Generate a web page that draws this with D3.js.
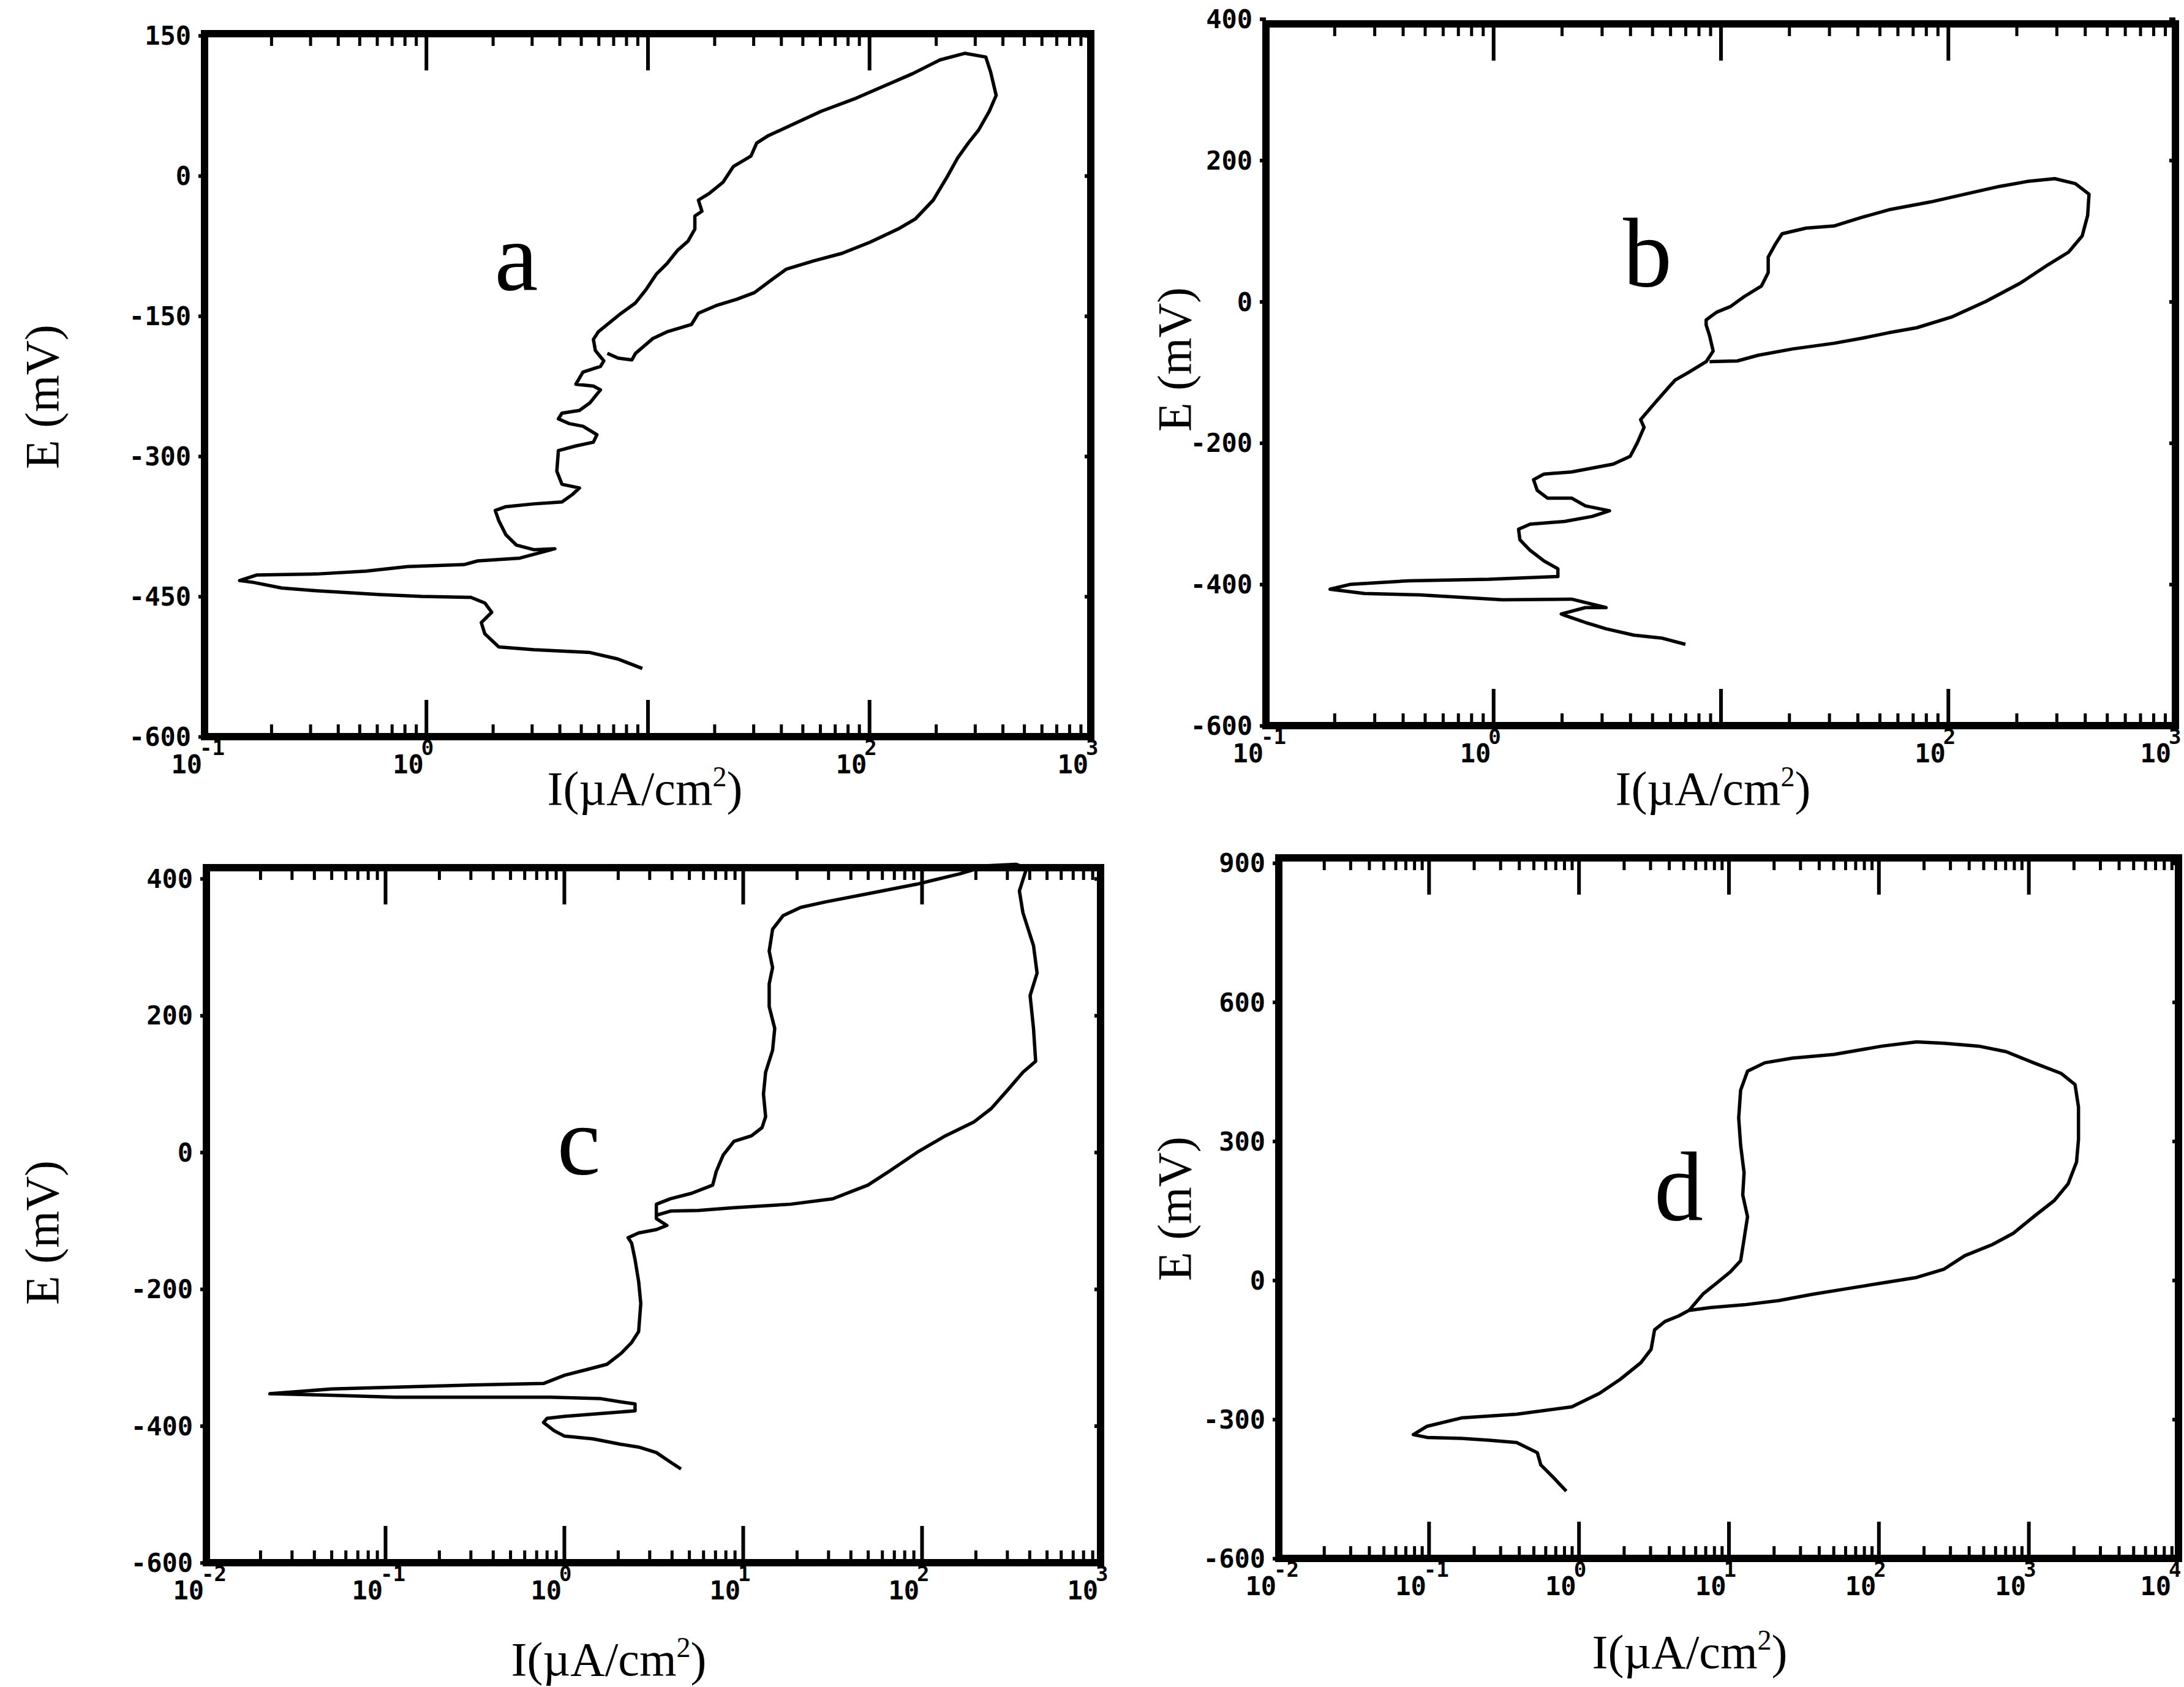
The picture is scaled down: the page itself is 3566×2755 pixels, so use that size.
<!DOCTYPE html>
<html lang="en">
<head>
<meta charset="UTF-8">
<title>Cyclic polarization curves a-d</title>
<script src="https://d3js.org/d3.v7.min.js"></script>
<style>
  body { margin: 0; background: #fff; }
  .tickLabel { font-family: "DejaVu Sans Mono", monospace; font-weight: bold; font-size: 42px; }
  .expLabel { font-family: "DejaVu Sans Mono", monospace; font-weight: bold; font-size: 34px; }
  .axisTitle { font-family: "Liberation Serif", "Times New Roman", serif; font-size: 78px; text-anchor: middle; }
  .panelLetter { font-family: "Liberation Serif", "Times New Roman", serif; font-size: 160px; text-anchor: middle; }
</style>
</head>
<body>
<script>
const width = 3566, height = 2755;

// ---- data: log10 I (uA/cm2) and E (mV) ----
// panel a
const aLogI = [0.976, 0.866, 0.739, 0.486, 0.328, 0.265, 0.249, 0.296, 0.265, 0.202, -0.020, -0.209, -0.494, -0.652, -0.779, -0.842,
  -0.763, -0.494, -0.273, -0.083, 0.170, 0.233, 0.423, 0.581, 0.486, 0.407, 0.360, 0.328, 0.312, 0.360, 0.486, 0.613, 0.660, 0.692,
  0.613, 0.590, 0.597, 0.676, 0.755, 0.771, 0.708, 0.644, 0.597, 0.613, 0.692, 0.739, 0.787, 0.755, 0.676, 0.708, 0.787, 0.802,
  0.764, 0.755, 0.777, 0.834, 0.881, 0.945, 0.992, 1.040, 1.087, 1.134, 1.182, 1.213, 1.213, 1.245, 1.229, 1.277, 1.340, 1.387,
  1.466, 1.492, 1.545, 1.656, 1.783, 1.941, 2.067, 2.194, 2.320, 2.431, 2.526, 2.548, 2.573, 2.542, 2.494, 2.447, 2.399, 2.352,
  2.289, 2.209, 2.130, 2.004, 1.877, 1.751, 1.625, 1.561, 1.482, 1.403, 1.308, 1.229, 1.198, 1.087, 1.024, 0.945, 0.929, 0.866, 0.818];
const aE = [-527, -517, -510, -507, -504, -490, -478, -467, -457, -451, -450, -448, -444, -441, -435, -433,
  -427, -426, -423, -418, -416, -412, -409, -399, -400, -395, -384, -369, -358, -354, -351, -349, -341, -334,
  -330, -316, -294, -289, -285, -277, -268, -265, -260, -254, -251, -243, -229, -225, -223, -210, -204, -198,
  -187, -175, -167, -156, -147, -136, -122, -105, -94, -80, -70, -57, -43, -38, -26, -19, -7, 10,
  21, 35, 43, 55, 69, 83, 96, 109, 124, 131, 127, 111, 86, 69, 49, 35, 19, -1,
  -26, -46, -57, -71, -83, -91, -100, -111, -125, -132, -139, -147, -159, -167, -174, -190, -197, -195, -190];

// panel b
const bLogI = [0.845, 0.739, 0.618, 0.496, 0.405, 0.314, 0.299, 0.405, 0.496, 0.344, 0.041, -0.323, -0.566, -0.718,
  -0.627, -0.369, -0.020, 0.284, 0.284, 0.223, 0.162, 0.117, 0.111, 0.162, 0.314, 0.435, 0.511, 0.405, 0.344, 0.238,
  0.193, 0.177, 0.223, 0.344, 0.527, 0.602, 0.633, 0.663, 0.648, 0.709, 0.769, 0.800, 0.860, 0.936, 0.967, 0.951,
  0.936, 0.936, 0.982, 1.043, 1.103, 1.179, 1.209, 1.209, 1.240, 1.270, 1.376, 1.498, 1.619, 1.740, 1.923, 2.074,
  2.226, 2.348, 2.469, 2.560, 2.620, 2.614, 2.590, 2.530, 2.439, 2.317, 2.165, 2.014, 1.862, 1.740, 1.619, 1.498,
  1.316, 1.164, 1.073, 0.951];
const bE = [-485, -476, -472, -463, -454, -444, -442, -433, -433, -421, -422, -415, -413, -407,
  -400, -395, -393, -389, -378, -367, -352, -337, -322, -315, -311, -304, -296, -289, -278, -278,
  -267, -252, -244, -241, -230, -219, -200, -178, -167, -144, -122, -111, -100, -85, -70, -48,
  -33, -26, -15, -7, 7, 22, 41, 63, 81, 96, 104, 107, 119, 130, 141, 152,
  163, 170, 174, 167, 152, 122, 93, 70, 52, 26, 0, -22, -37, -44, -52, -59,
  -67, -76, -84, -85];

// panel c
const cLogI = [0.654, 0.595, 0.516, 0.417, 0.319, 0.161, 0.003, -0.056, -0.115, -0.095, 0.003, 0.200, 0.397, 0.397,
  0.319, 0.200, -0.076, -0.943, -1.338, -1.645, -1.298, -0.628, -0.115, 0.003, 0.122, 0.240, 0.319, 0.378, 0.417,
  0.429, 0.417, 0.397, 0.378, 0.358, 0.417, 0.516, 0.575, 0.516, 0.516, 0.595, 0.713, 0.831, 0.851, 0.890, 0.950,
  1.048, 1.107, 1.127, 1.115, 1.127, 1.166, 1.178, 1.147, 1.147, 1.166, 1.147, 1.166, 1.225, 1.324, 1.462, 1.699,
  1.975, 2.211, 2.369, 2.527, 2.586, 2.546, 2.566, 2.625, 2.645, 2.606, 2.625, 2.637, 2.566, 2.487, 2.389, 2.290,
  2.132, 1.975, 1.817, 1.699, 1.502, 1.265, 0.950, 0.752, 0.595, 0.516];
const cE = [-463, -453, -439, -431, -427, -419, -415, -407, -395, -389, -386, -382, -378, -368,
  -365, -360, -358, -358, -355, -353, -346, -341, -338, -326, -318, -310, -294, -278, -262,
  -221, -189, -157, -133, -125, -118, -113, -107, -97, -76, -68, -60, -48, -28, -4, 16,
  24, 36, 52, 85, 117, 149, 181, 213, 246, 270, 294, 326, 346, 358, 366, 378,
  392, 407, 419, 421, 415, 382, 350, 302, 262, 229, 181, 133, 117, 93, 64, 44,
  24, 0, -28, -48, -68, -76, -81, -85, -86, -92];

// panel d
const dLogI = [-0.083, -0.161, -0.253, -0.276, -0.414, -0.598, -0.782, -1.011, -1.103, -1.011, -0.782, -0.414, -0.046,
  0.138, 0.276, 0.414, 0.483, 0.506, 0.575, 0.667, 0.736, 0.828, 0.920, 1.011, 1.080, 1.103, 1.126, 1.094, 1.103,
  1.080, 1.067, 1.080, 1.126, 1.241, 1.425, 1.701, 2.023, 2.253, 2.437, 2.667, 2.851, 3.034, 3.218, 3.310, 3.333,
  3.333, 3.320, 3.264, 3.172, 3.034, 2.897, 2.759, 2.575, 2.437, 2.253, 2.023, 1.793, 1.563, 1.333, 1.103, 0.874, 0.736];
const dE = [-455, -428, -398, -372, -350, -345, -341, -339, -333, -315, -297, -289, -273,
  -244, -214, -178, -149, -107, -89, -77, -65, -30, -6, 18, 42, 89, 137, 184, 232,
  291, 350, 410, 451, 469, 479, 487, 505, 514, 511, 505, 493, 469, 446, 422, 374,
  303, 255, 208, 172, 137, 101, 77, 53, 24, 6, -6, -18, -30, -44, -53, -59, -65];

// tick values
const aYTicks = [150, 0, -150, -300, -450, -600];
const bYTicks = [400, 200, 0, -200, -400, -600];
const cYTicks = [400, 200, 0, -200, -400, -600];
const dYTicks = [900, 600, 300, 0, -300, -600];
const abXLabels = [-1, 0, 2, 3];
const cXLabels = [-2, -1, 0, 1, 2, 3];
const dXLabels = [-2, -1, 0, 1, 2, 3, 4];

// ---- layout ----
const panels = [
  { letter: "a", logI: aLogI, E: aE, yTicks: aYTicks, xLabels: abXLabels, decades: [-1, 3], yDomain: [-600, 152],
    box: { x0: 334, x1: 1781, y0: 55, y1: 1203 }, yTitle: [68, 648], xTitle: [1053, 1314], letterAt: [0.407, -122] },
  { letter: "b", logI: bLogI, E: bE, yTicks: bYTicks, xLabels: abXLabels, decades: [-1, 3], yDomain: [-600, 393],
    box: { x0: 2067, x1: 3552, y0: 39, y1: 1185 }, yTitle: [1917, 587], xTitle: [2797, 1314], letterAt: [0.678, 22] },
  { letter: "c", logI: cLogI, E: cE, yTicks: cYTicks, xLabels: cXLabels, decades: [-2, 3], yDomain: [-600, 416],
    box: { x0: 337, x1: 1797, y0: 1417, y1: 2552 }, yTitle: [68, 2013], xTitle: [994, 2736], letterAt: [0.082, -32] },
  { letter: "d", logI: dLogI, E: dE, yTicks: dYTicks, xLabels: dXLabels, decades: [-2, 4], yDomain: [-600, 911],
    box: { x0: 2088, x1: 3557, y0: 1401, y1: 2545 }, yTitle: [1917, 1974], xTitle: [2759, 2724], letterAt: [0.667, 131] }
];

const svg = d3.select("body").append("svg")
  .attr("width", width)
  .attr("height", height)
  .style("background", "#fff");

function tickRow(g, axis, ty, tx, size, sw) {
  g.append("g")
    .attr("transform", `translate(${tx},${ty})`)
    .call(axis.tickSize(size).tickFormat(""))
    .call(s => s.select(".domain").remove())
    .selectAll("line").attr("stroke", "#000").attr("stroke-width", sw);
}

function drawPanel(p) {
  const g = svg.append("g");
  const b = p.box;
  const x = d3.scaleLog().domain([10 ** p.decades[0], 10 ** p.decades[1]]).range([b.x0, b.x1]);
  const y = d3.scaleLinear().domain(p.yDomain).range([b.y1, b.y0]);

  const majors = d3.range(p.decades[0], p.decades[1] + 1).map(e => 10 ** e);
  const minors = [];
  for (let e = p.decades[0]; e < p.decades[1]; e++) {
    for (let m = 2; m <= 9; m++) minors.push(m * 10 ** e);
  }

  // inward ticks, top and bottom
  tickRow(g, d3.axisBottom(x).tickValues(minors), b.y1, 0, -20, 5);
  tickRow(g, d3.axisTop(x).tickValues(minors), b.y0, 0, -20, 5);
  tickRow(g, d3.axisBottom(x).tickValues(majors), b.y1, 0, -60, 6);
  tickRow(g, d3.axisTop(x).tickValues(majors), b.y0, 0, -60, 6);
  // small ticks on left and right
  tickRow(g, d3.axisLeft(y).tickValues(p.yTicks), 0, b.x0, 10, 6);
  tickRow(g, d3.axisRight(y).tickValues(p.yTicks), 0, b.x1, -10, 6);

  // frame
  g.append("rect")
    .attr("x", b.x0).attr("y", b.y0)
    .attr("width", b.x1 - b.x0).attr("height", b.y1 - b.y0)
    .attr("fill", "none").attr("stroke", "#000").attr("stroke-width", 12);

  // y tick labels
  p.yTicks.forEach(v => {
    g.append("text")
      .attr("class", "tickLabel")
      .attr("x", b.x0 - 22)
      .attr("y", y(v))
      .attr("dy", "0.36em")
      .attr("text-anchor", "end")
      .text(String(v));
  });

  // x tick labels 10^n, kept inside the page at the right edge
  p.xLabels.forEach(e => {
    const tx = x(10 ** e);
    const expW = 21 * String(e).length;
    const shift = Math.max(0, tx - 8 + expW - (width - 4));
    g.append("text")
      .attr("class", "tickLabel")
      .attr("x", tx - 4 - shift)
      .attr("y", b.y1 + 60)
      .attr("text-anchor", "end")
      .text("10");
    g.append("text")
      .attr("class", "expLabel")
      .attr("x", tx - 8 - shift)
      .attr("y", b.y1 + 30)
      .attr("text-anchor", "start")
      .text(String(e));
  });

  // curve
  const line = d3.line()
    .x(d => x(10 ** d[0]))
    .y(d => y(d[1]));
  g.append("path")
    .datum(d3.zip(p.logI, p.E))
    .attr("d", line)
    .attr("fill", "none")
    .attr("stroke", "#000")
    .attr("stroke-width", 5.5)
    .attr("stroke-linejoin", "round");

  // panel letter
  g.append("text")
    .attr("class", "panelLetter")
    .attr("x", x(10 ** p.letterAt[0]))
    .attr("y", y(p.letterAt[1]))
    .text(p.letter);

  // axis titles
  g.append("text")
    .attr("class", "axisTitle")
    .attr("transform", `translate(${p.yTitle[0]},${p.yTitle[1]}) rotate(-90)`)
    .attr("dy", "0.35em")
    .text("E (mV)");

  const xt = g.append("text")
    .attr("class", "axisTitle")
    .attr("x", p.xTitle[0])
    .attr("y", p.xTitle[1]);
  xt.append("tspan").text("I(\u00B5A/cm");
  xt.append("tspan").attr("dy", -30).attr("font-size", 46).text("2");
  xt.append("tspan").attr("dy", 30).text(")");
}

panels.forEach(drawPanel);
</script>
</body>
</html>
